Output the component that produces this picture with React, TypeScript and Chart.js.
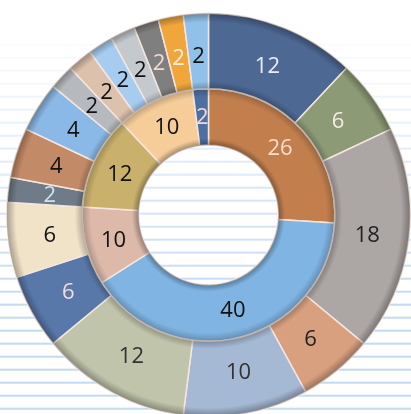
import React, { useEffect, useRef } from "react";
import { Chart, registerables } from "chart.js";

Chart.register(...registerables);

const outerValues = [12, 6, 18, 6, 10, 12, 6, 6, 2, 4, 4, 2, 2, 2, 2, 2, 2, 2];
const outerColors = [
  "#4d6893", "#8c9b76", "#aca6a4", "#d9a07f", "#a5b8d4", "#c0c4aa",
  "#5978aa", "#f1e3c8", "#6f7c88", "#c38a67", "#8bb9e7", "#b6babe",
  "#dcc1ac", "#a6cdef", "#c4c9cd", "#7f7f7f", "#f0a63b", "#90c1eb",
];
const outerLabelColors = [
  "#e8ecf4", "#f4ece4", "#222222", "#222222", "#333333", "#333333",
  "#f2dcd8", "#111111", "#cfe0ee", "#111111", "#111111", "#111111",
  "#111111", "#111111", "#111111", "#f2d8d4", "#fff2dc", "#111111",
];

const innerValues = [26, 40, 10, 12, 10, 2];
const innerColors = ["#c27f4d", "#7fb4e3", "#dcb9a9", "#c9b06b", "#f6cd99", "#4e6fa1"];
const innerLabelColors = ["#f8dccc", "#111111", "#111111", "#111111", "#111111", "#f2d8d4"];

const backgroundPlugin = {
  id: "bgLines",
  beforeDraw(chart: any) {
    const ctx = chart.ctx;
    ctx.save();
    ctx.fillStyle = "#ffffff";
    ctx.fillRect(0, 0, chart.width, chart.height);
    for (let k = 0; k < 34; k++) {
      const y = 5.7 + 13 * k;
      const a = Math.max(0, Math.min(1, (y - 20) / 280));
      ctx.fillStyle = `rgba(185, 212, 240, ${0.85 * a})`;
      ctx.fillRect(0, y - 1, chart.width, 2);
    }
    ctx.restore();
  },
};

const shadeAndLabelPlugin = {
  id: "shadeLabels",
  afterDatasetsDraw(chart: any) {
    const ctx = chart.ctx;
    ctx.save();
    chart.data.datasets.forEach((ds: any, di: number) => {
      const meta = chart.getDatasetMeta(di);
      const arc0 = meta.data[0];
      if (!arc0) return;
      const { x, y, innerRadius, outerRadius } = arc0.getProps(
        ["x", "y", "innerRadius", "outerRadius"],
        true
      );
      const g = ctx.createRadialGradient(x, y, innerRadius, x, y, outerRadius);
      if (di === 0) {
        g.addColorStop(0, "rgba(0,0,0,0.24)");
        g.addColorStop(0.1, "rgba(0,0,0,0)");
        g.addColorStop(0.88, "rgba(0,0,0,0)");
        g.addColorStop(1, "rgba(0,0,0,0.3)");
      } else {
        g.addColorStop(0, "rgba(0,0,0,0.32)");
        g.addColorStop(0.12, "rgba(0,0,0,0)");
        g.addColorStop(0.85, "rgba(0,0,0,0)");
        g.addColorStop(1, "rgba(0,0,0,0.22)");
      }
      ctx.beginPath();
      ctx.arc(x, y, outerRadius, 0, Math.PI * 2);
      ctx.arc(x, y, innerRadius, 0, Math.PI * 2, true);
      ctx.closePath();
      ctx.fillStyle = g;
      ctx.fill();
    });
    chart.data.datasets.forEach((ds: any, di: number) => {
      const meta = chart.getDatasetMeta(di);
      meta.data.forEach((arc: any, i: number) => {
        const p = arc.getProps(
          ["x", "y", "startAngle", "endAngle", "innerRadius", "outerRadius"],
          true
        );
        const mid = (p.startAngle + p.endAngle) / 2;
        const r = (p.innerRadius + p.outerRadius) / 2 - (di === 0 ? 4 : 0);
        const lx = p.x + Math.cos(mid) * r;
        const ly = p.y + Math.sin(mid) * r;
        ctx.font = "22px 'Open Sans', 'Noto Sans', sans-serif";
        ctx.textAlign = "center";
        ctx.textBaseline = "middle";
        ctx.fillStyle = ds.labelColors[i];
        ctx.fillText(String(ds.data[i]), lx, ly + 1);
      });
    });
    ctx.restore();
  },
};

export default function App() {
  const ref = useRef<HTMLCanvasElement | null>(null);
  useEffect(() => {
    if (!ref.current) return;
    const chart = new Chart(ref.current, {
      type: "doughnut",
      data: {
        labels: outerValues.map((_, i) => String(i)),
        datasets: [
          {
            data: outerValues,
            backgroundColor: outerColors,
            borderColor: "#f4e6df",
            borderWidth: 1.5,
            weight: 76,
            labelColors: outerLabelColors,
          } as any,
          {
            data: innerValues,
            backgroundColor: innerColors,
            borderColor: "#f4e6df",
            borderWidth: 1.5,
            weight: 57,
            labelColors: innerLabelColors,
          } as any,
        ],
      },
      options: {
        responsive: false,
        animation: false,
        cutout: "34.6%",
        layout: { padding: { left: 6, right: 0, top: 12, bottom: 2 } },
        plugins: {
          legend: { display: false },
          tooltip: { enabled: false },
        },
      },
      plugins: [backgroundPlugin, shadeAndLabelPlugin],
    });
    return () => chart.destroy();
  }, []);
  return (
    <div
      style={{
        position: "fixed",
        left: 0,
        top: 0,
        width: 411,
        height: 414,
        overflow: "hidden",
        background: "#ffffff",
      }}
    >
      <canvas ref={ref} width={411} height={420} style={{ display: "block" }} />
    </div>
  );
}
